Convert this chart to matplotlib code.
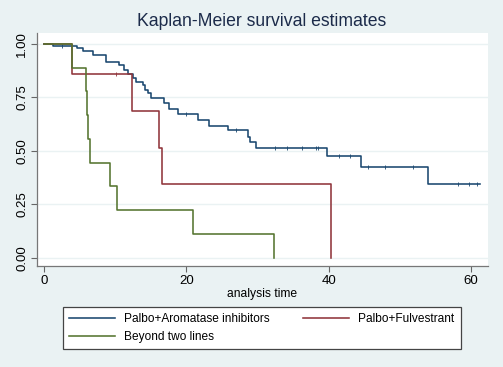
import numpy as np
import matplotlib
matplotlib.use("Agg")
import matplotlib.pyplot as plt

# Kaplan-Meier step values: (time of step, survival after step)
ai_times = [1.2, 4.7, 5.5, 6.9, 8.7, 10.6, 11.2, 11.8, 12.5, 13.0, 13.9, 14.2, 14.6,
            15.1, 16.8, 17.5, 18.9, 21.7, 23.2, 25.8, 28.7, 29.0, 29.8, 39.8, 44.6,
            54.0, 61.3]
ai_surv = [0.990, 0.981, 0.966, 0.950, 0.916, 0.902, 0.878, 0.860, 0.842, 0.824,
           0.808, 0.785, 0.769, 0.746, 0.722, 0.694, 0.671, 0.644, 0.618, 0.598,
           0.563, 0.543, 0.515, 0.476, 0.426, 0.343, 0.343]
ai_cens_t = [2.6, 20.0, 27.0, 32.5, 34.1, 36.3, 38.2, 38.5, 41.4, 43.0, 45.6,
             47.9, 51.8, 58.2, 59.8, 60.9]

fulv_times = [3.9, 12.4, 16.2, 16.6, 40.4]
fulv_surv = [0.857, 0.686, 0.514, 0.343, 0.0]
fulv_cens_t = [10.1]

beyond_times = [3.9, 5.9, 6.1, 6.2, 6.4, 9.3, 10.3, 21.0, 32.3]
beyond_surv = [0.889, 0.778, 0.667, 0.556, 0.444, 0.333, 0.222, 0.111, 0.0]

labels = ["Palbo+Aromatase inhibitors", "Palbo+Fulvestrant", "Beyond two lines"]
colors = ["#1a476f", "#90353b", "#55752f"]

xticks = [0, 20, 40, 60]
yticks = [0.0, 0.25, 0.5, 0.75, 1.0]


def surv_at(times, surv, t):
    s = 1.0
    for ti, si in zip(times, surv):
        if ti <= t:
            s = si
    return s


plt.rcParams['font.family'] = ['Liberation Sans', 'DejaVu Sans']

fig = plt.figure(figsize=(5.03, 3.67), dpi=100)
fig.patch.set_facecolor("#eaf2f3")
ax = fig.add_axes([37 / 503, 1 - 266 / 367, (488 - 37) / 503, (266 - 33) / 367])
ax.set_facecolor("white")

for y in yticks:
    ax.axhline(y, color="#eaf2f3", lw=1.0, zorder=0)

series = [(ai_times, ai_surv, ai_cens_t), (fulv_times, fulv_surv, fulv_cens_t),
          (beyond_times, beyond_surv, [])]
handles = []
for (t, s, ct), lab, c in zip(series, labels, colors):
    h, = ax.step([0] + t, [1.0] + s, where="post", color=c, lw=1.15, label=lab)
    handles.append(h)
    if ct:
        ax.plot(ct, [surv_at(t, s, x) for x in ct], ls="none", marker="|",
                ms=2.4, mew=0.6, color=c)

ax.set_xlim(-0.98, 62.4)
ax.set_ylim(-0.039, 1.051)
ax.set_xticks(xticks)
ax.set_yticks(yticks)
ax.set_yticklabels(["%.2f" % v for v in yticks], rotation=90, va="center")
ax.tick_params(length=4.3, width=0.8, color="#666666", labelsize=9.5, pad=2)
ax.tick_params(axis="x", pad=2.5)
for side in ["top", "right"]:
    ax.spines[side].set_visible(False)
for side in ["left", "bottom"]:
    ax.spines[side].set_color("#777777")
    ax.spines[side].set_linewidth(0.9)

ax.set_xlabel("analysis time", fontsize=8.7, labelpad=0.5)
fig.text(262 / 503, 1 - 22 / 367, "Kaplan-Meier survival estimates", ha="center",
         va="center", fontsize=12.7, color="#1c2b4a")

leg = fig.legend([handles[0], handles[2], handles[1]], [labels[0], labels[2], labels[1]],
                 ncol=2, loc="center", bbox_to_anchor=(261.7 / 503, 1 - 328 / 367),
                 fontsize=8.6, frameon=True, fancybox=False, framealpha=1,
                 handlelength=3.9, handletextpad=0.75, columnspacing=2.75,
                 labelspacing=0.5, borderpad=0.5)
leg.get_frame().set_edgecolor("#444444")
leg.get_frame().set_linewidth(0.9)

fig.savefig("out.png", dpi=100, facecolor=fig.get_facecolor())
